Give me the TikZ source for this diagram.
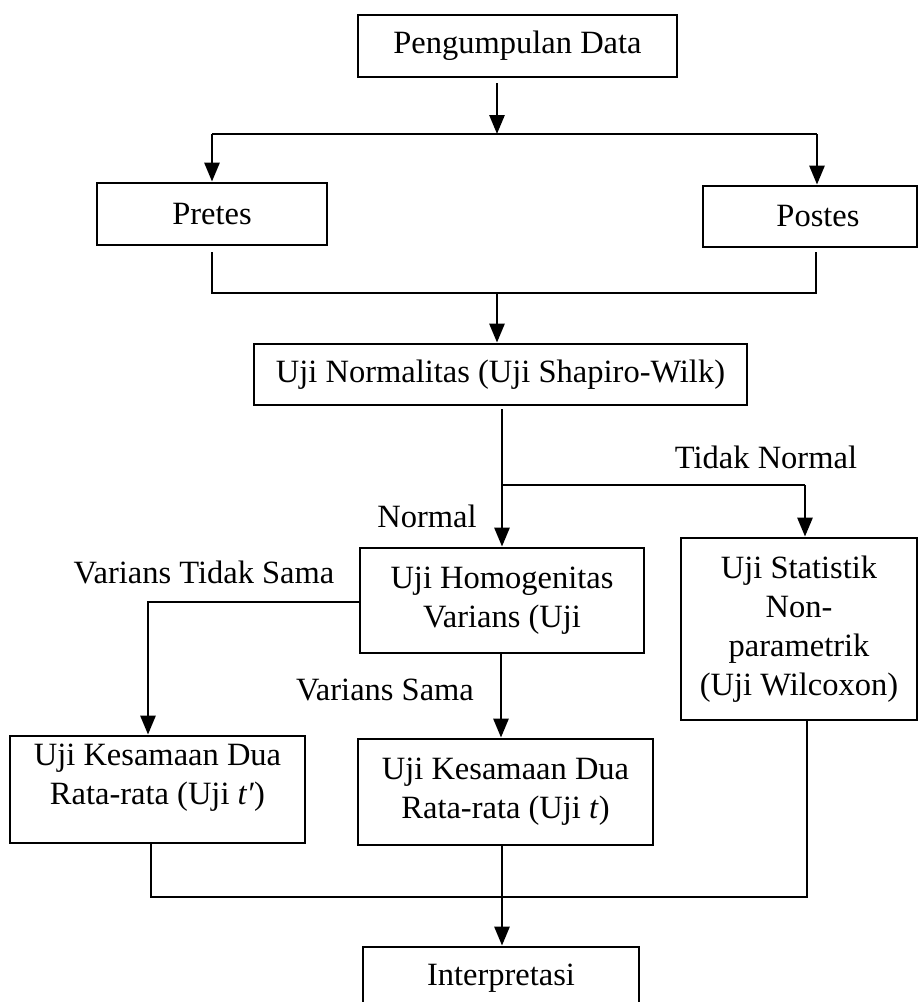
\documentclass[tikz,border=0pt]{standalone}
\usepackage{fontspec}
\setmainfont{Liberation Serif}
\usetikzlibrary{arrows.meta}
\begin{document}
\begin{tikzpicture}[x=1pt,y=-1pt,
  box/.style={draw=black, line width=2.8pt, inner sep=0pt, align=center,
    font={\fontsize{32.5}{39}\selectfont}},
  lbl/.style={inner sep=0pt, anchor=base, font={\fontsize{32.5}{39}\selectfont}},
  line/.style={draw=black, line width=2.8pt},
  conn/.style={line, -{Triangle[width=15pt,length=19pt]}}]
\useasboundingbox (0,0) rectangle (920,1002);
\clip (0,0) rectangle (920,1002);

% boxes
\node[box, minimum width=319pt, minimum height=62pt] (pd) at (517.5,46) {Pengumpulan Data};
\node[box, minimum width=230pt, minimum height=62pt] (pre) at (212,214) {Pretes};
\node[box, minimum width=214pt, minimum height=61pt] (post) at (810,216.5) {\hspace*{16pt}Postes};
\node[box, minimum width=493pt, minimum height=61pt] (norm) at (500.5,374.5) {Uji Normalitas (Uji Shapiro-Wilk)};
\node[box, minimum width=284pt, minimum height=105pt] (homo) at (502,600.5) {Uji Homogenitas\\Varians (Uji};
\node[box, minimum width=236pt, minimum height=182pt] (stat) at (799,629) {Uji Statistik\\Non-\\parametrik\\(Uji Wilcoxon)};
\node[box, minimum width=295pt, minimum height=107pt] (kl) at (157.5,789.5) {Uji Kesamaan Dua\\Rata-rata (Uji \textit{t′})\\[-8pt]\mbox{}};
\node[box, minimum width=295pt, minimum height=106pt] (kc) at (505.5,792) {Uji Kesamaan Dua\\Rata-rata (Uji \textit{t})};
\node[box, minimum width=276pt, minimum height=63pt] (interp) at (501,978.5) {Interpretasi};

% junction coordinates
\coordinate (a1) at (497,134);
\coordinate (aL) at (212,134);
\coordinate (aR) at (817,134);
\coordinate (b1) at (497,293);
\coordinate (bL) at (212,293);
\coordinate (bR) at (816,293);
\coordinate (c1) at (502,485);
\coordinate (cR) at (805,485);
\coordinate (d1) at (148,602);
\coordinate (e1) at (501,700);
\coordinate (f1) at (151,897);
\coordinate (fC) at (502,897);
\coordinate (fR) at (807,897);

% connectors
\draw[conn] ([yshift=-5pt]pd.south -| a1) -- (a1);
\draw[line] (aL) -- (aR);
\draw[conn] (aL) -- (pre.north -| aL);
\draw[conn] (aR) -- (post.north -| aR);

\draw[line] ([yshift=-6pt]pre.south -| bL) -- (bL) -- (bR) -- ([yshift=-4pt]post.south -| bR);
\draw[conn] (b1) -- (norm.north -| b1);

\draw[line] ([yshift=-3pt]norm.south -| c1) -- (c1) -- (cR);
\draw[conn] (c1) -- (homo.north -| c1);
\draw[conn] (cR) -- (stat.north -| cR);

\draw[conn] (homo.west |- d1) -- (d1) -- (kl.north -| d1);
\draw[conn] (homo.south -| e1) -- (kc.north -| e1);

\draw[line] (kl.south -| f1) -- (f1) -- (fR) -- (stat.south -| fR);
\draw[line] (kc.south -| fC) -- (fC);
\draw[conn] (fC) -- (interp.north -| fC);

% labels
\node[lbl] (tn) at (766,468) {Tidak Normal};
\node[lbl] (nm) at (427,527) {Normal};
\node[lbl] (vts) at (204,583) {Varians Tidak Sama};
\node[lbl] (vs) at (385,700) {Varians Sama};
\end{tikzpicture}
\end{document}
